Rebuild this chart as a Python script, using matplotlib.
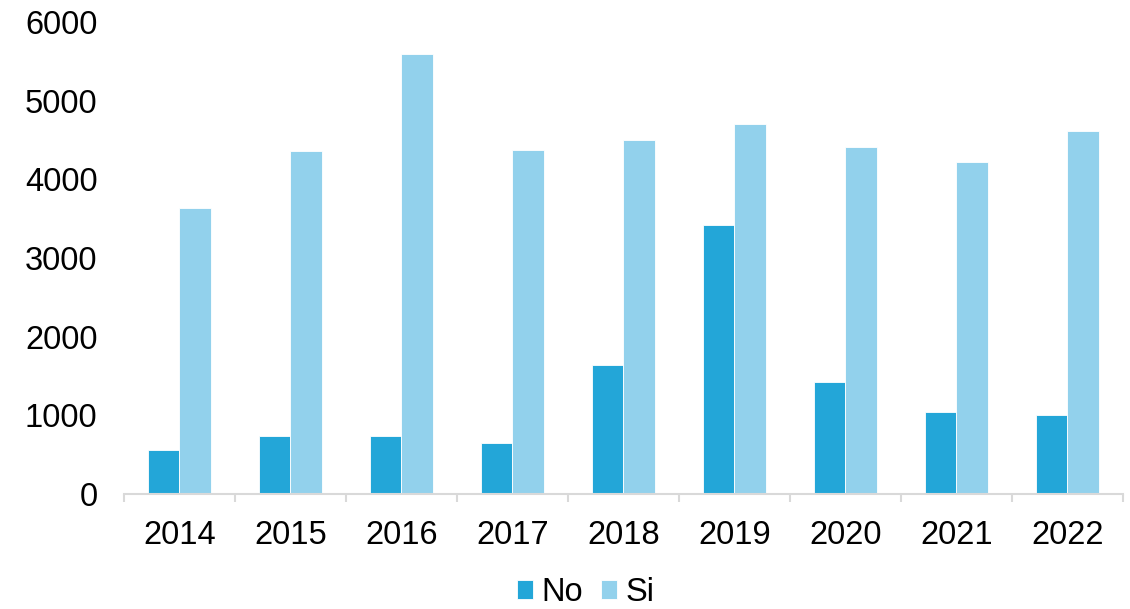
import matplotlib.pyplot as plt
import numpy as np

years = ["2014", "2015", "2016", "2017", "2018", "2019", "2020", "2021", "2022"]
no_vals = [560, 737, 740, 650, 1640, 3420, 1420, 1045, 1005]
si_vals = [3630, 4355, 5590, 4370, 4495, 4705, 4410, 4220, 4620]

plt.rcParams['font.family'] = ['Liberation Sans', 'DejaVu Sans']
fs = 23.5

fig = plt.figure(figsize=(11.3, 6.09), dpi=100)
ax = fig.add_axes([0.1097, 0.1888, 0.8841, 0.7751])

x = np.arange(len(years))
w = 0.285
ax.bar(x - w / 2, no_vals, w, color='#23A6D8', edgecolor='white', linewidth=0.6, label="No")
ax.bar(x + w / 2, si_vals, w, color='#92D1EC', edgecolor='white', linewidth=0.6, label="Si")

ax.set_xlim(-0.5, len(years) - 0.5)
ax.set_ylim(0, 6000)
ax.set_yticks(np.arange(0, 6001, 1000))
ax.set_xticks(x)
ax.set_xticklabels(years)
ax.set_xticks(np.arange(-0.5, len(years), 1), minor=True)

for s in ['top', 'right', 'left']:
    ax.spines[s].set_visible(False)
ax.spines['bottom'].set_color('#D9D9D9')
ax.spines['bottom'].set_linewidth(1.5)

ax.tick_params(axis='x', which='major', length=0, pad=19, labelsize=fs)
ax.tick_params(axis='x', which='minor', length=6, width=1.5, color='#D9D9D9')
ax.tick_params(axis='y', length=0, pad=19, labelsize=fs)

fig.legend(loc='center', bbox_to_anchor=(0.518, 0.027), ncol=2, frameon=False,
           fontsize=fs, handlelength=0.5, handleheight=0.5, handletextpad=0.25,
           columnspacing=0.55, borderpad=0)

plt.savefig("out.png", dpi=100)
